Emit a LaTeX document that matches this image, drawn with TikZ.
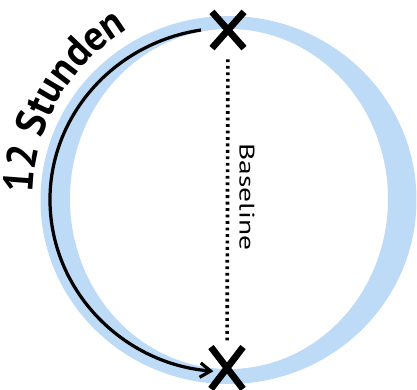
\documentclass[tikz,border=0pt]{standalone}
\usepackage{fontspec}
\newfontfamily\handfont{PT Sans}
\usepackage{tikz}
\usetikzlibrary{arrows.meta,shapes.misc,decorations.text}
\definecolor{ringblue}{RGB}{189,219,247}

\begin{document}
\begin{tikzpicture}[x=0.025cm,y=-0.025cm,>={Straight Barb[length=2.6mm,width=3.6mm]},
  xmark/.style={cross out,draw,line width=4.8pt,inner sep=0pt,minimum width=18pt,minimum height=21pt}]
\useasboundingbox (0,0) rectangle (417,390);
% blue ring
\fill[ringblue,even odd rule] (228.5,200) ellipse [x radius=188,y radius=184]
  (229,199) ellipse [x radius=159,y radius=170];
% the two points
\node[xmark] (top) at (228,30) {};
\node[xmark,minimum height=25pt] (bottom) at (227,368) {};
\draw[line width=2.6pt,dash pattern=on 2pt off 2.6pt,shorten <=8pt,shorten >=4pt] (top) -- (bottom);
\node[rotate=-90,font={\handfont\fontsize{15}{15}\selectfont\addfontfeature{FakeStretch=1.4}}] (base) at (247,197) {Baseline};
% twelve hours along the left
\coordinate (arcstart) at (201,30);
\draw[->,line width=2.3pt] (arcstart) arc[start angle=261,end angle=95,x radius=179,y radius=172];
\path[decorate,decoration={text along path,text align=center,
  text={|\handfont\bfseries\fontsize{30}{30}\selectfont\addfontfeature{FakeStretch=0.95}|12 Stunden}}]
  (40.6,250.2) arc[start angle=164,end angle=256,radius=195];
\end{tikzpicture}
\end{document}
